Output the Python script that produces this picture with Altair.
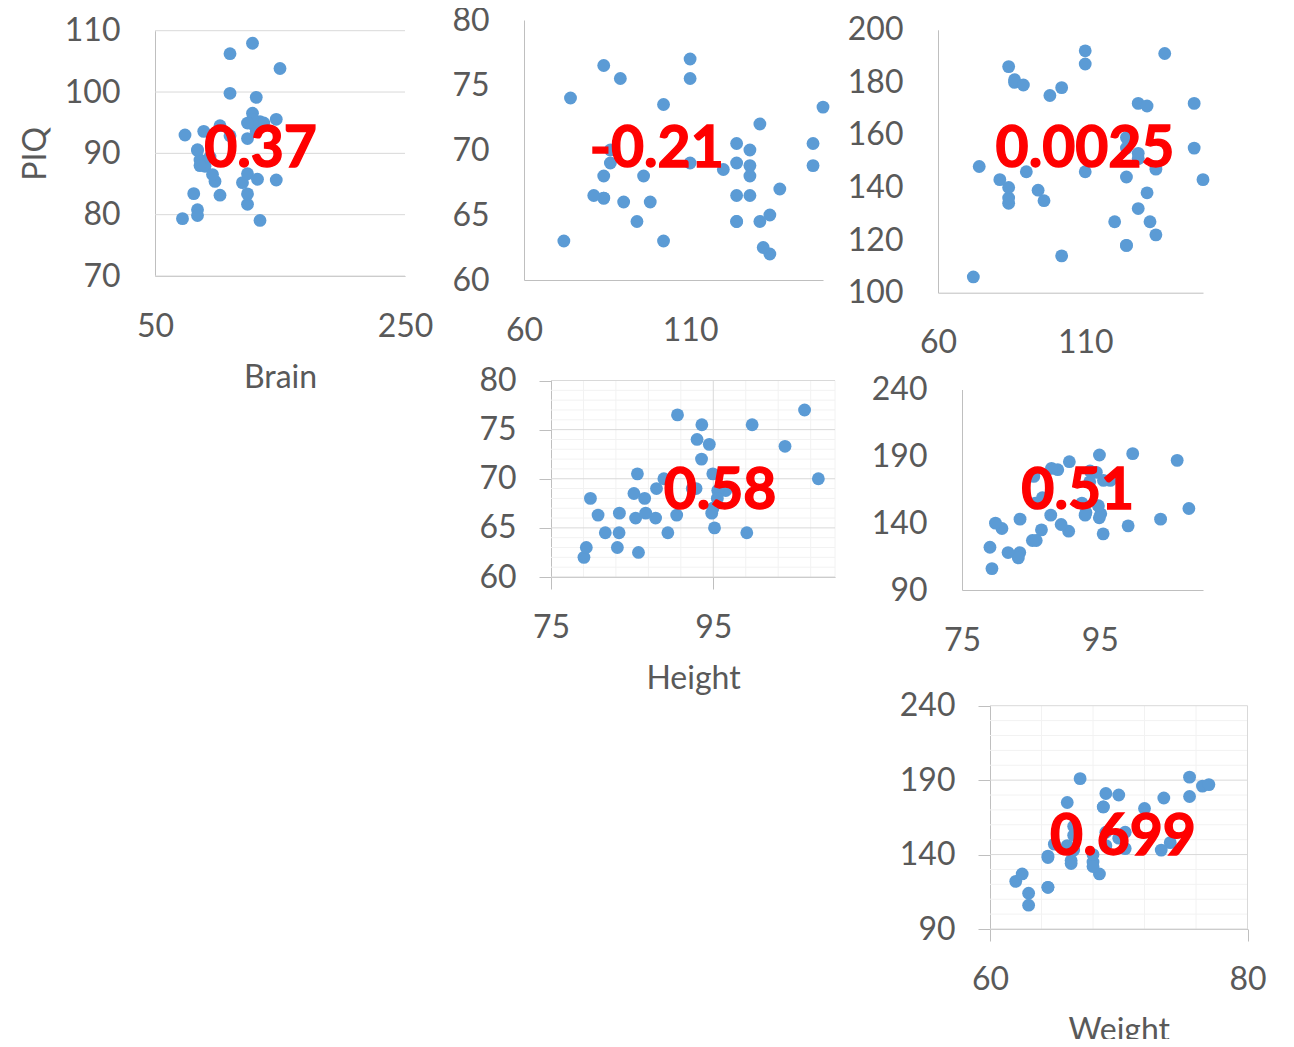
import altair as alt
import pandas as pd

# ---- data (iqsize: PIQ, Brain, Height, Weight) ----
piq = [124, 150, 128, 134, 110, 131, 98, 84, 147, 124, 128, 124, 147, 90, 96, 120, 102, 84, 86,
       84, 134, 128, 102, 131, 84, 110, 72, 124, 132, 137, 110, 86, 81, 128, 124, 94, 74, 89]
brain = [81.69, 103.84, 96.54, 95.15, 92.88, 99.13, 85.43, 90.49, 95.55, 83.39, 107.95, 92.41,
         85.65, 87.89, 86.54, 85.22, 94.51, 80.80, 88.91, 90.59, 79.06, 95.50, 83.18, 93.55,
         79.86, 106.25, 79.35, 86.67, 85.78, 94.96, 99.79, 88.00, 83.43, 94.81, 94.94, 89.40,
         93.00, 93.59]
height = [64.5, 73.3, 68.8, 65.0, 69.0, 64.5, 66.0, 66.3, 68.8, 64.5, 70.0, 69.0, 70.5, 66.0,
          68.0, 68.5, 73.5, 66.3, 70.0, 76.5, 62.0, 68.0, 63.0, 72.0, 68.0, 77.0, 63.0, 66.5,
          62.5, 67.0, 75.5, 69.0, 66.5, 66.5, 70.5, 64.5, 74.0, 75.5]
weight = [118, 143, 172, 147, 146, 138, 175, 134, 172, 118, 151, 155, 155, 146, 135, 127, 178,
          136, 180, 186, 122, 132, 114, 171, 140, 187, 106, 159, 127, 191, 192, 181, 143, 153,
          144, 139, 148, 179]

corr_labels = ["0.37", "-0.21", "0.0025", "0.58", "0.51", "0.699"]

# axis tick values per panel
p1_x = [50, 250]; p1_y = [70, 80, 90, 100, 110]
p2_x = [60, 110]; p2_y = [60, 65, 70, 75, 80]
p3_x = [60, 110]; p3_y = [100, 120, 140, 160, 180, 200]
p4_x = [75, 95];  p4_y = [60, 65, 70, 75, 80]
p5_x = [75, 95];  p5_y = [90, 140, 190, 240]
p6_x = [60, 80];  p6_y = [90, 140, 190, 240]

# gridline values
p1_hmaj = [70, 80, 90, 100, 110]
p4_hmaj = [60, 65, 70, 75, 80]
p4_hmin = [61, 62, 63, 64, 66, 67, 68, 69, 71, 72, 73, 74, 76, 77, 78, 79]
p4_vmaj = [95]
p4_vmin = [79, 83, 87, 91, 99, 103, 107, 110]
p6_hmaj = [90, 140, 190, 240]
p6_hmin = [100, 110, 120, 130, 150, 160, 170, 180, 200, 210, 220, 230]
p6_vmaj = [80]
p6_vmin = [64, 68, 72, 76]

df = pd.DataFrame({"PIQ": piq, "Brain": brain, "Height": height, "Weight": weight})

W, H = 1278, 1031
O = 8  # page margin
FONT = "Lato"
BLUE = "#5B9BD5"
MAJ = "#D9D9D9"
MIN = "#F2F2F2"


def rule_layer(vals, orient, xs, ys, xax, yax, xdom, ydom, color):
    d = pd.DataFrame({"v": vals})
    base = alt.Chart(d).mark_rule(color=color, strokeWidth=1)
    if orient == "h":
        return base.encode(
            y=alt.Y("v:Q", scale=ys, axis=yax),
            x=alt.XDatum(xdom[0], type="quantitative", scale=xs, axis=xax),
            x2=alt.datum(xdom[1]),
        )
    return base.encode(
        x=alt.X("v:Q", scale=xs, axis=xax),
        y=alt.YDatum(ydom[0], type="quantitative", scale=ys, axis=yax),
        y2=alt.datum(ydom[1]),
    )


def panel(xf, yf, xdom, ydom, xpix, ypix, xvals, yvals, label, tpos,
          xtitle=None, ytitle=None, ticks=False,
          hmaj=(), hmin=(), vmaj=(), vmin=()):
    xs = alt.Scale(domain=xdom, range=[xpix[0] - O, xpix[1] - O], nice=False, zero=False)
    ys = alt.Scale(domain=ydom, range=[ypix[0] - O, ypix[1] - O], nice=False, zero=False)
    ts = 12 if ticks else 0
    xaxis_kw = dict(orient="bottom", offset=(ypix[0] - O) - H, values=xvals,
                    ticks=ticks, tickSize=ts, labelPadding=35 - ts)
    if xtitle:
        xaxis_kw.update(title=xtitle, titleY=86, titleBaseline="top")
    else:
        xaxis_kw.update(title=None)
    yaxis_kw = dict(orient="left", offset=-(xpix[0] - O), values=yvals,
                    ticks=ticks, tickSize=ts, labelPadding=35 - ts)
    if ytitle:
        yaxis_kw.update(title=ytitle, titleX=-120, titleBaseline="middle")
    else:
        yaxis_kw.update(title=None)
    xax = alt.Axis(**xaxis_kw)
    yax = alt.Axis(**yaxis_kw)

    layers = []
    if hmin:
        layers.append(rule_layer(list(hmin), "h", xs, ys, xax, yax, xdom, ydom, MIN))
    if vmin:
        layers.append(rule_layer(list(vmin), "v", xs, ys, xax, yax, xdom, ydom, MIN))
    if hmaj:
        layers.append(rule_layer(list(hmaj), "h", xs, ys, xax, yax, xdom, ydom, MAJ))
    if vmaj:
        layers.append(rule_layer(list(vmaj), "v", xs, ys, xax, yax, xdom, ydom, MAJ))

    pts = alt.Chart(df).mark_circle(size=165, color=BLUE, opacity=1).encode(
        x=alt.X(f"{xf}:Q", scale=xs, axis=xax),
        y=alt.Y(f"{yf}:Q", scale=ys, axis=yax),
    )
    layers.append(pts)

    txt = alt.Chart(pd.DataFrame({"t": [label]})).mark_text(
        font=FONT, fontSize=57, fontWeight="bold", color="#FF0000",
        stroke="#FF0000", strokeWidth=1.4,
        align="center", baseline="alphabetic",
    ).encode(
        x=alt.value(tpos[0] - O),
        y=alt.value(tpos[1] - O + 20.5),
        text="t:N",
    )
    layers.append(txt)
    return alt.layer(*layers)


panels = [
    panel("PIQ", "Brain", [50, 250], [70, 110], (155, 405), (276, 30.7), p1_x, p1_y,
          corr_labels[0], (260.5, 146), xtitle="Brain", ytitle="PIQ", hmaj=p1_hmaj),
    panel("PIQ", "Height", [60, 150], [60, 80], (524, 823), (280, 20), p2_x, p2_y,
          corr_labels[1], (656.7, 146)),
    panel("PIQ", "Weight", [60, 150], [100, 200], (938, 1203), (292.7, 29.8), p3_x, p3_y,
          corr_labels[2], (1085, 146)),
    panel("Brain", "Height", [75, 110], [60, 80], (551, 835), (577, 380.5), p4_x, p4_y,
          corr_labels[3], (720, 488), xtitle="Height", ticks=True,
          hmaj=p4_hmaj, hmin=p4_hmin, vmaj=p4_vmaj, vmin=p4_vmin),
    panel("Brain", "Weight", [75, 110], [90, 240], (962, 1203), (590, 389.5), p5_x, p5_y,
          corr_labels[4], (1077.7, 488)),
    panel("Height", "Weight", [60, 80], [90, 240], (990, 1247.5), (929, 705.7), p6_x, p6_y,
          corr_labels[5], (1123, 834), xtitle="Weight", ticks=True,
          hmaj=p6_hmaj, hmin=p6_hmin, vmaj=p6_vmaj, vmin=p6_vmin),
]

chart = alt.layer(*panels).resolve_scale(
    x="independent", y="independent"
).resolve_axis(
    x="independent", y="independent"
).properties(
    width=W, height=H, padding=0, autosize=alt.AutoSizeParams(type="none")
).configure_view(
    stroke=None
).configure_axis(
    labelFont=FONT, labelFontSize=32, labelColor="#595959",
    titleFont=FONT, titleFontSize=32, titleColor="#595959", titleFontWeight="normal",
    domainColor="#BFBFBF", domainWidth=1, tickColor="#BFBFBF", tickWidth=1,
    grid=False, labelFlush=False, labelOverlap=False, labelBound=False,
)

chart.save("out.html", embed_options={"renderer": "svg", "actions": False})
